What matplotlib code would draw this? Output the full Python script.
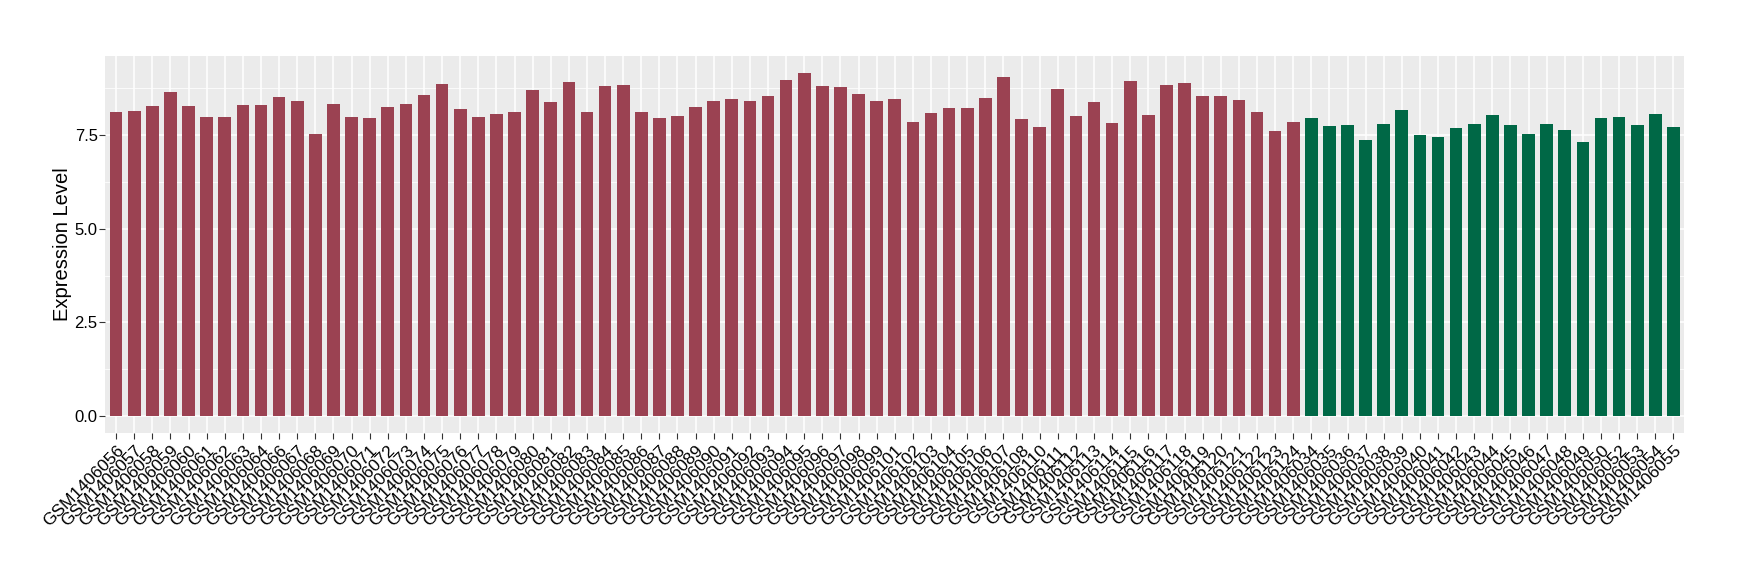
import numpy as np
import matplotlib
matplotlib.use("Agg")
from matplotlib import pyplot as plt
from matplotlib.ticker import MultipleLocator

plt.rcParams['font.family'] = ['Liberation Sans', 'DejaVu Sans']

# sample ids (red group, then green group)
red_ids = ([f"GSM1406{n:03d}" for n in range(56, 65)]
           + [f"GSM1406{n:03d}" for n in range(66, 100)]
           + [f"GSM1406{n:03d}" for n in range(101, 109)]
           + [f"GSM1406{n:03d}" for n in range(110, 125)])
green_ids = ([f"GSM1406{n:03d}" for n in range(34, 51)]
             + [f"GSM1406{n:03d}" for n in range(52, 56)])

red_vals = [8.12, 8.14, 8.28, 8.65, 8.28, 7.98, 7.98, 8.30, 8.30, 8.52,
            8.41, 7.53, 8.33, 7.98, 7.96, 8.25, 8.33, 8.57, 8.87, 8.20,
            7.98, 8.06, 8.12, 8.71, 8.38, 8.92, 8.12, 8.81, 8.84, 8.12,
            7.96, 8.01, 8.25, 8.41, 8.46, 8.41, 8.54, 8.97, 9.16, 8.81,
            8.79, 8.60, 8.41, 8.46, 7.85, 8.09, 8.22, 8.22, 8.49, 9.05,
            7.93, 7.71, 8.73, 8.01, 8.38, 7.82, 8.95, 8.04, 8.84, 8.89,
            8.54, 8.54, 8.44, 8.12, 7.61, 7.85]
green_vals = [7.96, 7.74, 7.77, 7.37, 7.79, 8.17, 7.50, 7.45, 7.69, 7.79,
              8.04, 7.77, 7.53, 7.79, 7.63, 7.31, 7.96, 7.98, 7.77, 8.06,
              7.71]

labels = red_ids + green_ids
values = np.array(red_vals + green_vals)
colors = ['#9B4252'] * len(red_vals) + ['#006846'] * len(green_vals)

fig = plt.figure(figsize=(17.4, 5.8), dpi=100)
ax = fig.add_axes([0.0605, 0.253, 0.9075, 0.651])
ax.set_facecolor('#EBEBEB')

x = np.arange(len(labels))
ax.bar(x, values, width=0.7, color=colors, zorder=3)

ymax = values.max()
ax.set_ylim(-0.05 * ymax, ymax * 1.05)
ax.set_xlim(-0.6, len(labels) - 0.4)

ax.yaxis.set_minor_locator(MultipleLocator(1.25))
ax.set_yticks([0, 2.5, 5, 7.5])
ax.set_yticklabels(['0.0', '2.5', '5.0', '7.5'])
ax.set_xticks(x)
ax.set_xticklabels(labels, rotation=45, ha='right', va='top',
                   rotation_mode='anchor', fontsize=12.5)

ax.grid(which='major', color='white', linewidth=1.1, zorder=0)
ax.grid(which='minor', axis='y', color='white', linewidth=0.55, zorder=0)
ax.set_axisbelow(True)
for s in ax.spines.values():
    s.set_visible(False)

ax.tick_params(axis='both', which='major', length=4, width=0.8,
               color='#333333', labelcolor='black')
ax.tick_params(axis='y', which='major', labelsize=12, pad=1.5)
ax.tick_params(axis='y', which='minor', length=0)
ax.tick_params(axis='x', pad=3)
ax.set_ylabel('Expression Level', fontsize=14.5)
ax.yaxis.set_label_coords(-0.021, 0.5)

fig.savefig('out.png', dpi=100)
